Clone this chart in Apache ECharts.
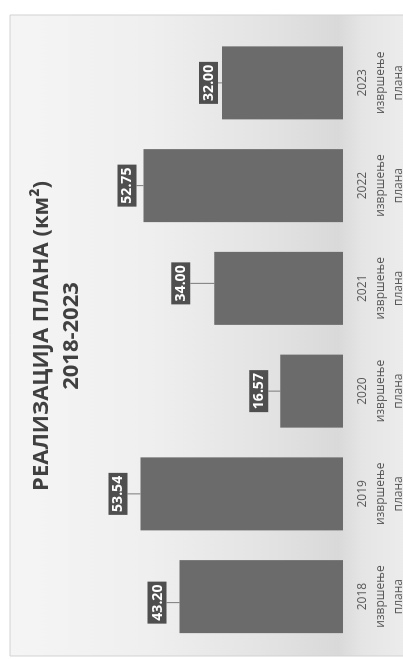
<!DOCTYPE html>
<html>
<head>
<meta charset="utf-8">
<script src="https://cdn.jsdelivr.net/npm/echarts@6/dist/echarts.min.js"></script>
<style>
  html, body { margin: 0; padding: 0; background: #fff; overflow: hidden; }
  /* chart is drawn landscape, then turned a quarter left like the scan */
  #main {
    position: absolute; left: 0; top: 0;
    width: 659px; height: 403px;
    transform-origin: 0 0;
    transform: translate(0, 659px) rotate(-90deg);
  }
</style>
</head>
<body>
<div id="main"></div>
<script>
const years = ['2018', '2019', '2020', '2021', '2022', '2023'];
const labelSuffix = 'извршење\nплана';
const values = [43.20, 53.54, 16.57, 34.00, 52.75, 32.00];

// how far each value box sits above its bar (layout only)
const labelLift = [10, 10, 9, 21, 4, 1];
const labelShift = [-6, 0, 0, 5, 0, 0];

const myChart = echarts.init(document.getElementById('main'));

const option = {
  backgroundColor: '#fff',
  textStyle: { fontFamily: 'Open Sans' },
  graphic: [
    {
      type: 'rect',
      z: -10,
      silent: true,
      shape: { x: 3, y: 10, width: 641, height: 400 },
      style: {
        stroke: '#d2d2d2',
        lineWidth: 1,
        fill: {
          type: 'linear', x: 0, y: 0, x2: 0, y2: 1,
          colorStops: [
            { offset: 0, color: '#f5f5f5' },
            { offset: 0.35, color: '#efefef' },
            { offset: 0.62, color: '#e4e4e4' },
            { offset: 0.82, color: '#d9d9d9' },
            { offset: 0.88, color: '#e5e5e5' },
            { offset: 1, color: '#ededed' }
          ]
        }
      }
    }
  ],
  title: [
    {
      text: 'РЕАЛИЗАЦИЈА ПЛАНА (км²)',
      left: 318,
      top: 26,
      textAlign: 'center',
      textStyle: { fontSize: 22, fontWeight: 'bold', color: '#404040', fontFamily: 'Open Sans' }
    },
    {
      text: '2018-2023',
      left: 318,
      top: 56,
      textAlign: 'center',
      textStyle: { fontSize: 22, fontWeight: 'bold', color: '#404040', fontFamily: 'Open Sans' }
    }
  ],
  grid: { left: 11, right: 31.5, top: 116, bottom: 60, outerBoundsMode: 'none' },
  xAxis: {
    type: 'category',
    data: years,
    axisLine: { show: false },
    axisTick: { show: false },
    axisLabel: {
      margin: 11,
      fontSize: 12,
      lineHeight: 18,
      color: '#595959',
      fontFamily: 'Open Sans',
      formatter: (v) => v + '\n' + labelSuffix
    }
  },
  yAxis: {
    type: 'value',
    min: 0,
    max: 60,
    show: false
  },
  series: [
    {
      type: 'bar',
      data: values,
      barWidth: 73,
      itemStyle: { color: '#6b6b6b' },
      label: {
        show: true,
        position: 'top',
        distance: 3,
        formatter: (p) => p.value.toFixed(2),
        color: '#fff',
        fontSize: 14,
        fontWeight: 'bold',
        fontFamily: 'Open Sans',
        backgroundColor: '#4f4f4f',
        padding: [3, 3, 2, 3]
      },
      labelLine: {
        show: true,
        lineStyle: { color: '#7a7a7a', width: 1 }
      },
      labelLayout: function (params) {
        return {
          dx: labelShift[params.dataIndex],
          dy: -labelLift[params.dataIndex]
        };
      }
    }
  ]
};

myChart.setOption(option);
</script>
</body>
</html>
